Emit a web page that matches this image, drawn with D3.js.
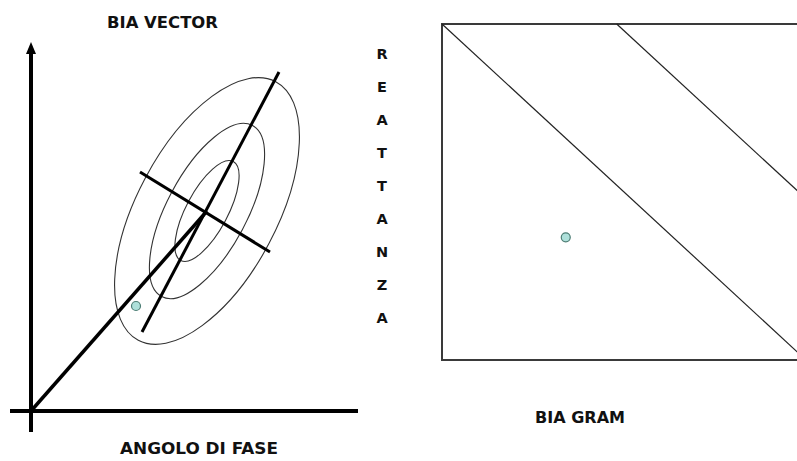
<!DOCTYPE html>
<html>
<head>
<meta charset="utf-8">
<script src="https://cdn.jsdelivr.net/npm/d3@7"></script>
<style>
  body { margin: 0; background: #fff; }
  svg { display: block; }
</style>
</head>
<body>
<script>
// ---- data (chart units) ----
var vecAxisX = [-0.525, 8.175];
var vecAxisY = [-0.525, 9.225];
var ellipseCenter = [4.4, 5.0];
var ellipseAngle = 62;
var ellipseMajor = [3.66, 2.42, 1.4];
var ellipseMinor = [1.75, 1.0, 0.52];
var majorAxis = [[2.775, 1.975], [6.2, 8.475]];
var minorAxis = [[2.725, 5.975], [5.975, 3.975]];
var vecPoint = [2.625, 2.625];

var gramBox = [[0, 0], [10, 10]];
var gramLines = [[[0, 10], [10, 0]], [[4.8, 10], [10, 4.8]]];
var gramPoint = [3.4, 3.65];

var sideLabel = "REATTANZA".split("");

var width = 797, height = 461;

var svg = d3.select("body").append("svg")
    .attr("width", width)
    .attr("height", height)
    .style("font-family", "'DejaVu Sans', sans-serif")
    .style("font-weight", "bold");

// ---- BIA vector (left) ----
var xv = d3.scaleLinear().domain([0, 1]).range([31, 71]);
var yv = d3.scaleLinear().domain([0, 1]).range([411, 371]);
var k = xv(1) - xv(0);

var left = svg.append("g");

// axes
left.append("line")
    .attr("x1", xv(vecAxisX[0])).attr("x2", xv(vecAxisX[1]))
    .attr("y1", yv(0)).attr("y2", yv(0))
    .attr("stroke", "#000").attr("stroke-width", 4);

left.append("line")
    .attr("x1", xv(0)).attr("x2", xv(0))
    .attr("y1", yv(vecAxisY[0])).attr("y2", yv(vecAxisY[1]) + 8)
    .attr("stroke", "#000").attr("stroke-width", 4);

var tip = yv(vecAxisY[1]);
left.append("path")
    .attr("d", "M" + (xv(0) - 5) + "," + (tip + 12) + "L" + xv(0) + "," + tip + "L" + (xv(0) + 5) + "," + (tip + 12) + "Z")
    .attr("fill", "#000");

// tolerance ellipses
left.selectAll(".ell")
    .data(ellipseMajor.map(function(a, i) { return { a: a, b: ellipseMinor[i] }; }))
    .enter().append("ellipse")
    .attr("class", "ell")
    .attr("cx", 0).attr("cy", 0)
    .attr("rx", function(d) { return d.a * k; })
    .attr("ry", function(d) { return d.b * k; })
    .attr("transform", "translate(" + xv(ellipseCenter[0]) + "," + yv(ellipseCenter[1]) + ") rotate(" + (-ellipseAngle) + ")")
    .attr("fill", "none")
    .attr("stroke", "#333")
    .attr("stroke-width", 1.1);

var line = d3.line()
    .x(function(d) { return xv(d[0]); })
    .y(function(d) { return yv(d[1]); });

// vector from origin to the centre, and the two ellipse axes
left.append("path").attr("d", line([[0, 0], ellipseCenter]))
    .attr("stroke", "#000").attr("stroke-width", 3.5).attr("fill", "none");
left.append("path").attr("d", line(majorAxis))
    .attr("stroke", "#000").attr("stroke-width", 3).attr("fill", "none");
left.append("path").attr("d", line(minorAxis))
    .attr("stroke", "#000").attr("stroke-width", 3).attr("fill", "none");

left.append("circle")
    .attr("cx", xv(vecPoint[0])).attr("cy", yv(vecPoint[1]))
    .attr("r", 4.5)
    .attr("fill", "#aee0da").attr("stroke", "#4d7d74").attr("stroke-width", 1.2);

left.append("text")
    .attr("x", 107).attr("y", 28)
    .attr("textLength", 111).attr("lengthAdjust", "spacingAndGlyphs")
    .style("font-size", "15.5px").attr("fill", "#111")
    .text("BIA VECTOR");

left.append("text")
    .attr("x", 120).attr("y", 454)
    .attr("textLength", 158).attr("lengthAdjust", "spacingAndGlyphs")
    .style("font-size", "16.5px").attr("fill", "#111")
    .text("ANGOLO DI FASE");

// vertical label, one letter per row
svg.selectAll(".side")
    .data(sideLabel)
    .enter().append("text")
    .attr("class", "side")
    .attr("x", 382)
    .attr("y", function(d, i) { return 58.5 + i * 33.1; })
    .attr("text-anchor", "middle")
    .style("font-size", "14.5px").attr("fill", "#111")
    .text(function(d) { return d; });

// ---- BIA gram (right) ----
var xg = d3.scaleLinear().domain([0, 10]).range([442, 806]);
var yg = d3.scaleLinear().domain([0, 10]).range([360, 24]);

var right = svg.append("g");

right.append("rect")
    .attr("x", xg(gramBox[0][0])).attr("y", yg(gramBox[1][1]))
    .attr("width", xg(gramBox[1][0]) - xg(gramBox[0][0]))
    .attr("height", yg(gramBox[0][1]) - yg(gramBox[1][1]))
    .attr("fill", "none").attr("stroke", "#3a3a3a").attr("stroke-width", 2);

var gline = d3.line()
    .x(function(d) { return xg(d[0]); })
    .y(function(d) { return yg(d[1]); });

right.selectAll(".diag")
    .data(gramLines)
    .enter().append("path")
    .attr("class", "diag")
    .attr("d", gline)
    .attr("fill", "none").attr("stroke", "#222").attr("stroke-width", 1.2);

right.append("circle")
    .attr("cx", xg(gramPoint[0])).attr("cy", yg(gramPoint[1]))
    .attr("r", 4.5)
    .attr("fill", "#aee0da").attr("stroke", "#4d7d74").attr("stroke-width", 1.2);

right.append("text")
    .attr("x", 535).attr("y", 423)
    .attr("textLength", 90).attr("lengthAdjust", "spacingAndGlyphs")
    .style("font-size", "16px").attr("fill", "#111")
    .text("BIA GRAM");
</script>
</body>
</html>
